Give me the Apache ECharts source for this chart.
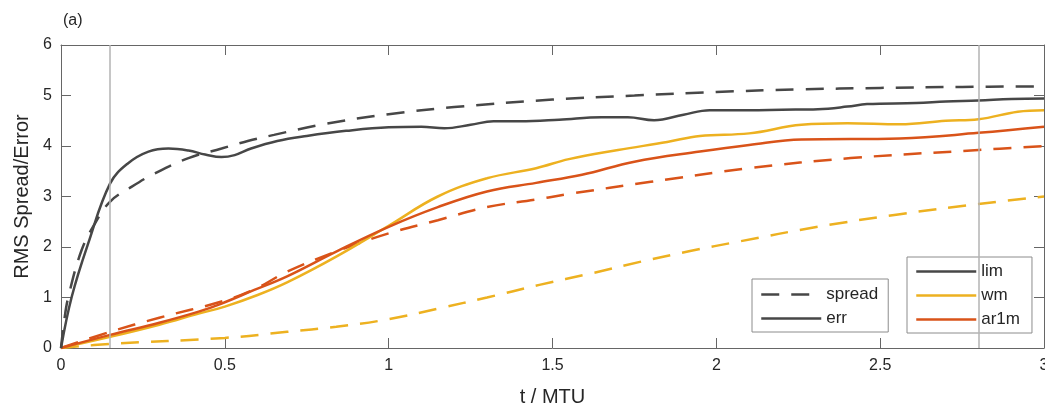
<!DOCTYPE html>
<html>
<head>
<meta charset="utf-8">
<script src="https://cdn.jsdelivr.net/npm/echarts@6/dist/echarts.min.js"></script>
<style>html,body{margin:0;padding:0;background:#fff}#c{width:1045px;height:412px}</style>
</head>
<body>
<div id="c"></div>
<script>
// ---- data (t in MTU, value) ----
const xTicks = [0, 0.5, 1, 1.5, 2, 2.5, 3];
const vLines = [0.15, 2.8];

const limSpread = [[0,0],[0.01,0.55],[0.022,1.0],[0.063,1.94],[0.104,2.47],[0.15,2.9],[0.215,3.19],[0.287,3.46],[0.389,3.76],[0.49,3.95],[0.57,4.1],[0.65,4.22],[0.8,4.43],[1.0,4.63],[1.2,4.77],[1.5,4.92],[1.75,5.0],[2.0,5.07],[2.25,5.12],[2.5,5.15],[2.75,5.17],[3.0,5.18]];
const limErr = [[0,0],[0.033,1.02],[0.083,2.07],[0.15,3.26],[0.205,3.66],[0.267,3.89],[0.328,3.95],[0.389,3.91],[0.44,3.83],[0.49,3.78],[0.53,3.82],[0.58,3.95],[0.66,4.1],[0.75,4.2],[0.87,4.3],[1.0,4.37],[1.1,4.38],[1.17,4.35],[1.25,4.42],[1.32,4.49],[1.4,4.49],[1.52,4.52],[1.65,4.57],[1.73,4.57],[1.81,4.51],[1.9,4.62],[1.98,4.71],[2.1,4.71],[2.2,4.72],[2.31,4.73],[2.4,4.78],[2.46,4.83],[2.61,4.85],[2.7,4.88],[2.8,4.9],[2.9,4.93],[3.0,4.94]];
const wmSpread = [[0,0],[0.15,0.08],[0.5,0.2],[0.69,0.32],[0.84,0.42],[1.0,0.57],[1.157,0.79],[1.3,1.0],[1.46,1.25],[1.62,1.48],[1.77,1.71],[1.92,1.92],[2.07,2.11],[2.31,2.4],[2.56,2.65],[2.8,2.85],[3.0,3.0]];
const wmErr = [[0,0],[0.15,0.22],[0.3,0.46],[0.42,0.68],[0.5,0.82],[0.6,1.05],[0.69,1.3],[0.84,1.81],[1.0,2.42],[1.15,3.0],[1.3,3.36],[1.45,3.56],[1.55,3.74],[1.7,3.92],[1.85,4.08],[1.95,4.2],[2.1,4.25],[2.26,4.42],[2.4,4.45],[2.56,4.43],[2.7,4.5],[2.8,4.53],[2.92,4.68],[3.0,4.71]];
const ar1mSpread = [[0,0],[0.15,0.32],[0.3,0.6],[0.49,0.92],[0.59,1.16],[0.69,1.51],[0.84,1.91],[1.0,2.27],[1.15,2.53],[1.3,2.79],[1.45,2.94],[1.55,3.05],[1.8,3.29],[2.1,3.56],[2.41,3.76],[2.8,3.92],[3.0,4.0]];
const ar1mErr = [[0,0],[0.15,0.26],[0.3,0.5],[0.42,0.72],[0.49,0.88],[0.59,1.15],[0.69,1.42],[0.84,1.91],[1.0,2.4],[1.15,2.79],[1.3,3.1],[1.45,3.27],[1.59,3.43],[1.75,3.69],[1.95,3.89],[2.1,4.02],[2.26,4.13],[2.56,4.15],[2.8,4.26],[3.0,4.38]];

const C_LIM = '#474747', C_WM = '#EDB120', C_AR = '#D95319';
const FONT = 'Liberation Sans, Arial, Helvetica, sans-serif';
const DASH = [18, 12];
const AX = '#666666';

function line(name, data, color, dashed, extra) {
  return Object.assign({
    name: name, type: 'line', data: data, smooth: 0.4, symbol: 'none',
    xAxisIndex: 0, yAxisIndex: 0,
    lineStyle: { color: color, width: 2.5, type: dashed ? DASH : 'solid' },
    itemStyle: { color: color }, silent: true, z: 3
  }, extra || {});
}

const legendCommon = {
  orient: 'vertical', itemGap: 7, itemWidth: 60, itemHeight: 14,
  backgroundColor: '#fff', borderColor: '#8c8c8c', borderWidth: 1, borderRadius: 0,
  itemStyle: { opacity: 0 },
  lineStyle: { width: 2.5 },
  textStyle: { fontFamily: FONT, fontSize: 17, color: '#262626', padding: [0, 0, 0, 0] },
  selectedMode: false
};

const chart = echarts.init(document.getElementById('c'), null, { renderer: 'canvas' });
chart.setOption({
  animation: false,
  backgroundColor: '#ffffff',
  textStyle: { fontFamily: FONT },
  title: { text: '(a)', left: 58, top: 8, textStyle: { fontFamily: FONT, fontSize: 16, fontWeight: 'normal', color: '#262626' } },
  grid: { left: 61, right: 1, top: 45, bottom: 64, containLabel: false, outerBoundsMode: 'none' },
  xAxis: [{
    type: 'value', min: 0, max: 3, interval: 0.5, position: 'bottom',
    name: 't / MTU', nameLocation: 'middle', nameGap: 39,
    nameTextStyle: { fontFamily: FONT, fontSize: 20, color: '#262626' },
    axisLine: { show: true, onZero: false, lineStyle: { color: AX, width: 1 } },
    axisTick: { show: true, inside: true, length: 10, lineStyle: { color: AX } },
    axisLabel: { fontFamily: FONT, fontSize: 16, color: '#262626', margin: 10, hideOverlap: false, formatter: v => String(v) },
    splitLine: { show: false }
  }, {
    type: 'value', min: 0, max: 3, interval: 0.5, position: 'top',
    axisLine: { show: true, onZero: false, lineStyle: { color: AX, width: 1 } },
    axisTick: { show: true, inside: true, length: 10, lineStyle: { color: AX } },
    axisLabel: { show: false }, splitLine: { show: false }
  }],
  yAxis: [{
    type: 'value', min: 0, max: 6, interval: 1, position: 'left',
    name: 'RMS Spread/Error', nameLocation: 'middle', nameGap: 24,
    nameTextStyle: { fontFamily: FONT, fontSize: 20, color: '#262626' },
    axisLine: { show: true, onZero: false, lineStyle: { color: AX, width: 1 } },
    axisTick: { show: true, inside: true, length: 10, lineStyle: { color: AX } },
    axisLabel: { fontFamily: FONT, fontSize: 16, color: '#262626', margin: 9 },
    splitLine: { show: false }
  }, {
    type: 'value', min: 0, max: 6, interval: 1, position: 'right',
    axisLine: { show: true, onZero: false, lineStyle: { color: AX, width: 1 } },
    axisTick: { show: true, inside: true, length: 10, lineStyle: { color: AX } },
    axisLabel: { show: false }, splitLine: { show: false }
  }],
  legend: [Object.assign({}, legendCommon, {
    data: ['spread', 'err'], left: 752, top: 279, padding: [7, 10, 5, 8]
  }), Object.assign({}, legendCommon, {
    data: ['lim', 'wm', 'ar1m'], left: 907, top: 257, padding: [6, 12, 5, 8]
  })],
  series: [
    line('wm spread', wmSpread, C_WM, true),
    line('ar1m spread', ar1mSpread, C_AR, true),
    line('wm err', wmErr, C_WM, false),
    line('ar1m err', ar1mErr, C_AR, false),
    line('lim spread', limSpread, C_LIM, true),
    line('lim err', limErr, C_LIM, false, {
      markLine: {
        silent: true, symbol: 'none', label: { show: false },
        lineStyle: { color: '#b3b3b3', width: 1.5, type: 'solid' },
        data: vLines.map(v => ({ xAxis: v }))
      }
    }),
    // legend-only entries
    line('spread', [], C_LIM, true),
    line('err', [], C_LIM, false),
    line('lim', [], C_LIM, false),
    line('wm', [], C_WM, false),
    line('ar1m', [], C_AR, false)
  ]
});
</script>
</body>
</html>
